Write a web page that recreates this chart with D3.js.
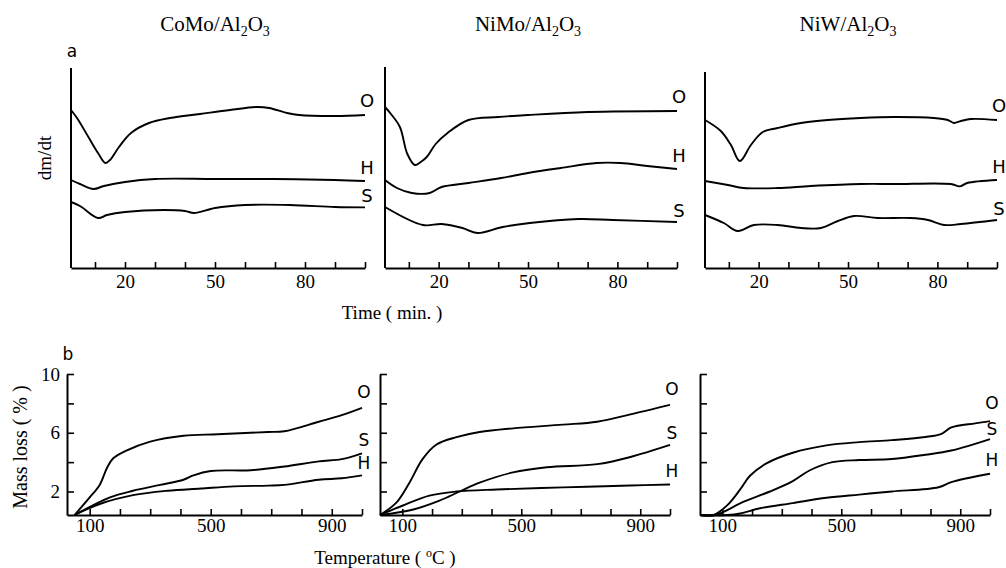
<!DOCTYPE html>
<html>
<head>
<meta charset="utf-8">
<script src="https://cdn.jsdelivr.net/npm/d3@7"></script>
<style>
  body { margin: 0; background: #fff; }
  svg { display: block; }
</style>
</head>
<body>
<div id="chart"></div>
<script>
// ---- data ----
const catalysts = ['CoMo/Al2O3', 'NiMo/Al2O3', 'NiW/Al2O3'];
const gases = ['O', 'H', 'S'];

const timeTicks = [10, 20, 30, 40, 50, 60, 70, 80, 90, 100];
const timeTickLabels = [20, 50, 80];
const tempTicks = [100, 200, 300, 400, 500, 600, 700, 800, 900, 1000];
const tempTickLabels = [100, 500, 900];
const massTicks = [2, 4, 6, 8, 10];
const massTickLabels = [2, 6, 10];

// (a) dm/dt vs time [min, arbitrary units]
const comoDtgO = [[2, 7.9], [4, 7.5], [8, 6.5], [11, 5.75], [13.5, 5.25], [15, 5.4], [18, 6.05], [22, 6.75], [28, 7.25], [35, 7.5], [45, 7.7], [55, 7.9], [64, 8.05], [68, 8.0], [74, 7.75], [78, 7.65], [90, 7.6], [100, 7.65]];
const comoDtgH = [[2, 4.4], [5, 4.2], [9.5, 3.95], [13, 4.1], [20, 4.3], [30, 4.45], [50, 4.45], [70, 4.45], [90, 4.4], [100, 4.35]];
const comoDtgS = [[2, 3.3], [5, 3.1], [11, 2.5], [14, 2.65], [20, 2.8], [33, 2.9], [40, 2.85], [43, 2.75], [50, 3.0], [60, 3.15], [75, 3.15], [90, 3.05], [100, 3.03]];

const nimoDtgO = [[2, 8.05], [4, 7.7], [7, 7.05], [9.5, 5.7], [12, 5.15], [14, 5.3], [16, 5.55], [19, 6.2], [23, 6.75], [30, 7.4], [40, 7.55], [50, 7.65], [70, 7.8], [100, 7.85]];
const nimoDtgH = [[2, 4.4], [6, 4.0], [11, 3.75], [17, 3.75], [21, 4.05], [30, 4.25], [41, 4.5], [50, 4.75], [61, 5.0], [73, 5.25], [81, 5.25], [90, 5.1], [100, 4.95]];
const nimoDtgS = [[2, 3.05], [14.7, 2.15], [21, 2.2], [28, 2.0], [33, 1.75], [41.5, 2.05], [50.6, 2.25], [67, 2.45], [78.5, 2.4], [100, 2.3]];

const niwDtgO = [[2, 7.4], [7.3, 6.85], [10.7, 6.15], [13.7, 5.35], [17.4, 6.15], [21.4, 6.8], [26.4, 7.0], [34.2, 7.25], [43.2, 7.4], [54.3, 7.5], [65.4, 7.55], [78.8, 7.5], [83.5, 7.4], [85.5, 7.25], [87.9, 7.35], [91.2, 7.45], [100, 7.4]];
const niwDtgH = [[2, 4.35], [9.7, 4.15], [15, 4.0], [26.4, 4.0], [37.5, 4.1], [54.3, 4.2], [65.4, 4.2], [84.5, 4.2], [87.5, 4.08], [90, 4.25], [100, 4.4]];
const niwDtgS = [[2, 2.65], [8.3, 2.25], [13, 1.85], [18.4, 2.15], [26.4, 2.15], [34.2, 2.0], [40.9, 2.0], [46.6, 2.35], [52, 2.6], [60, 2.5], [71, 2.5], [76.8, 2.4], [82.2, 2.15], [87.9, 2.2], [100, 2.4]];

// (b) mass loss vs temperature [°C, %]
const comoTgO = [[50, 0.4], [100, 1.6], [133, 2.45], [157, 3.6], [177, 4.25], [223, 4.8], [300, 5.4], [410, 5.8], [523, 5.9], [690, 6.05], [743, 6.1], [857, 6.75], [933, 7.2], [1000, 7.7]];
const comoTgH = [[50, 0.4], [133, 1.15], [243, 1.75], [357, 2.05], [467, 2.2], [577, 2.35], [690, 2.4], [743, 2.45], [857, 2.8], [933, 2.9], [1000, 3.1]];
const comoTgS = [[50, 0.4], [167, 1.6], [243, 2.05], [333, 2.45], [410, 2.8], [443, 3.1], [500, 3.4], [633, 3.45], [743, 3.7], [857, 4.05], [933, 4.2], [1000, 4.6]];

const nimoTgO = [[25, 0.4], [80, 1.24], [124, 2.6], [168, 4.2], [215, 5.2], [282, 5.7], [360, 6.05], [472, 6.3], [640, 6.55], [755, 6.75], [867, 7.25], [1000, 7.9]];
const nimoTgH = [[25, 0.4], [100, 1.03], [191, 1.72], [282, 2.0], [418, 2.14], [640, 2.28], [867, 2.41], [1000, 2.48]];
const nimoTgS = [[25, 0.4], [134, 0.76], [225, 1.38], [293, 2.0], [360, 2.6], [472, 3.3], [586, 3.65], [755, 3.86], [867, 4.35], [1000, 5.17]];

const niwTgO = [[25, 0.4], [70, 0.4], [117, 1.07], [160, 2.14], [193, 3.07], [250, 3.93], [337, 4.64], [450, 5.14], [560, 5.36], [670, 5.5], [783, 5.71], [837, 5.93], [870, 6.36], [950, 6.64], [1000, 6.79]];
const niwTgH = [[25, 0.4], [117, 0.4], [160, 0.5], [227, 0.86], [337, 1.21], [450, 1.57], [560, 1.79], [670, 2.0], [827, 2.29], [870, 2.64], [1000, 3.21]];
const niwTgS = [[25, 0.4], [77, 0.4], [170, 1.29], [260, 2.0], [337, 2.71], [393, 3.43], [470, 4.0], [560, 4.14], [670, 4.21], [783, 4.5], [870, 4.79], [1000, 5.57]];

const dtgSeries = [[comoDtgO, comoDtgH, comoDtgS], [nimoDtgO, nimoDtgH, nimoDtgS], [niwDtgO, niwDtgH, niwDtgS]];
const tgSeries = [[comoTgO, comoTgH, comoTgS], [nimoTgO, nimoTgH, nimoTgS], [niwTgO, niwTgH, niwTgS]];

// ---- layout ----
const W = 1006, H = 568;
const serif = '"Liberation Serif", "Times New Roman", serif';
const narrow = '"Liberation Sans Narrow", "DejaVu Sans", sans-serif';

const dtgPanels = [{ x0: 71, x1: 365, top: 68 }, { x0: 385, x1: 677, top: 67 }, { x0: 705, x1: 997, top: 72 }];
const dtgBase = 268, dtgTop = 68;
const tgPanels = [{ x0: 67, x1: 362 }, { x0: 380, x1: 670 }, { x0: 700, x1: 990 }];
const tgBase = 515, tgTop = 374;
// vertical offset of the O / H / S end labels above each curve end
const dtgLabelDy = [-13, -12, -10];
const tgLabelDy = [[-15, -11, -12], [-15, -12, -11], [-17, -13, -9]];

const svg = d3.select('#chart').append('svg')
  .attr('width', W).attr('height', H)
  .attr('viewBox', `0 0 ${W} ${H}`);
svg.append('rect').attr('width', W).attr('height', H).attr('fill', '#fff');

const curve = d3.curveCatmullRom.alpha(0.5);

function styleAxis(g) {
  g.select('.domain').attr('stroke', '#000').attr('stroke-width', 2);
  g.selectAll('.tick line').attr('stroke', '#000').attr('stroke-width', 1.6);
  g.selectAll('.tick text').attr('font-family', serif).attr('font-size', 19).attr('fill', '#000');
}

// chemical formula with subscript digits
function formula(text, name) {
  let shifted = false;
  name.split(/(\d)/).filter(s => s).forEach(part => {
    const t = text.append('tspan').text(part);
    if (/\d/.test(part)) {
      t.attr('font-size', 14).attr('dy', 5);
      shifted = true;
    } else if (shifted) {
      t.attr('dy', -5);
      shifted = false;
    }
  });
}

// ---- (a) dm/dt panels ----
const yDtg = d3.scaleLinear().domain([0, 10]).range([dtgBase, dtgTop]);

dtgPanels.forEach((p, i) => {
  const x = d3.scaleLinear().domain([2, 100]).range([p.x0, p.x1]);
  const g = svg.append('g');

  g.append('g').attr('transform', `translate(0,${dtgBase})`)
    .call(d3.axisBottom(x).tickValues(timeTicks).tickSizeInner(-6).tickSizeOuter(0).tickPadding(7)
      .tickFormat(d => timeTickLabels.includes(d) ? d : ''))
    .call(styleAxis);

  g.append('line')
    .attr('x1', p.x0).attr('x2', p.x0).attr('y1', dtgBase).attr('y2', p.top)
    .attr('stroke', '#000').attr('stroke-width', 2);

  const line = d3.line().x(d => x(d[0])).y(d => yDtg(d[1])).curve(curve);
  dtgSeries[i].forEach((s, k) => {
    g.append('path').datum(s).attr('d', line)
      .attr('fill', 'none').attr('stroke', '#000').attr('stroke-width', 1.9);
    const last = s[s.length - 1];
    g.append('text')
      .attr('x', x(last[0]) + 2).attr('y', yDtg(last[1]) + dtgLabelDy[k])
      .attr('text-anchor', 'middle').attr('dominant-baseline', 'middle')
      .attr('font-family', narrow).attr('font-size', 18)
      .text(gases[k]);
  });

  const title = svg.append('text')
    .attr('x', (p.x0 + p.x1) / 2 - 3).attr('y', 31)
    .attr('text-anchor', 'middle')
    .attr('font-family', serif).attr('font-size', 21);
  formula(title, catalysts[i]);
});

svg.append('text').attr('x', 72).attr('y', 57).attr('text-anchor', 'middle')
  .attr('font-family', narrow).attr('font-size', 17).text('a');
svg.append('text')
  .attr('transform', 'translate(51,158) rotate(-90)')
  .attr('text-anchor', 'middle')
  .attr('font-family', serif).attr('font-size', 19).text('dm/dt');
svg.append('text').attr('x', 392).attr('y', 319).attr('text-anchor', 'middle')
  .attr('font-family', serif).attr('font-size', 19).text('Time ( min. )');

// ---- (b) mass loss panels ----
const yTg = d3.scaleLinear().domain([0.4, 10]).range([tgBase, tgTop]);

tgPanels.forEach((p, i) => {
  const x = d3.scaleLinear().domain([25, 1000]).range([p.x0, p.x1]);
  const g = svg.append('g');

  g.append('g').attr('transform', `translate(0,${tgBase})`)
    .call(d3.axisBottom(x).tickValues(tempTicks).tickSizeInner(-6).tickSizeOuter(0).tickPadding(4)
      .tickFormat(d => tempTickLabels.includes(d) ? d : ''))
    .call(styleAxis);

  g.append('g').attr('transform', `translate(${p.x0},0)`)
    .call(d3.axisLeft(yTg).tickValues(massTicks).tickSizeInner(-7).tickSizeOuter(0).tickPadding(7)
      .tickFormat(d => i === 0 && massTickLabels.includes(d) ? d : ''))
    .call(styleAxis);

  const line = d3.line().x(d => x(d[0])).y(d => yTg(d[1])).curve(curve);
  tgSeries[i].forEach((s, k) => {
    g.append('path').datum(s).attr('d', line)
      .attr('fill', 'none').attr('stroke', '#000').attr('stroke-width', 1.9);
    const last = s[s.length - 1];
    g.append('text')
      .attr('x', x(last[0]) + 2).attr('y', yTg(last[1]) + tgLabelDy[i][k])
      .attr('text-anchor', 'middle').attr('dominant-baseline', 'middle')
      .attr('font-family', narrow).attr('font-size', 17)
      .text(gases[k]);
  });
});

svg.append('text').attr('x', 68).attr('y', 360).attr('text-anchor', 'middle')
  .attr('font-family', narrow).attr('font-size', 17).text('b');
svg.append('text')
  .attr('transform', 'translate(27,447) rotate(-90)')
  .attr('text-anchor', 'middle')
  .attr('font-family', serif).attr('font-size', 20).text('Mass  loss ( % )');

const tempLabel = svg.append('text').attr('x', 385).attr('y', 564).attr('text-anchor', 'middle')
  .attr('font-family', serif).attr('font-size', 19);
tempLabel.append('tspan').text('Temperature  ( ');
tempLabel.append('tspan').attr('font-size', 12).attr('dy', -7).text('o');
tempLabel.append('tspan').attr('dy', 7).text('C )');
</script>
</body>
</html>
